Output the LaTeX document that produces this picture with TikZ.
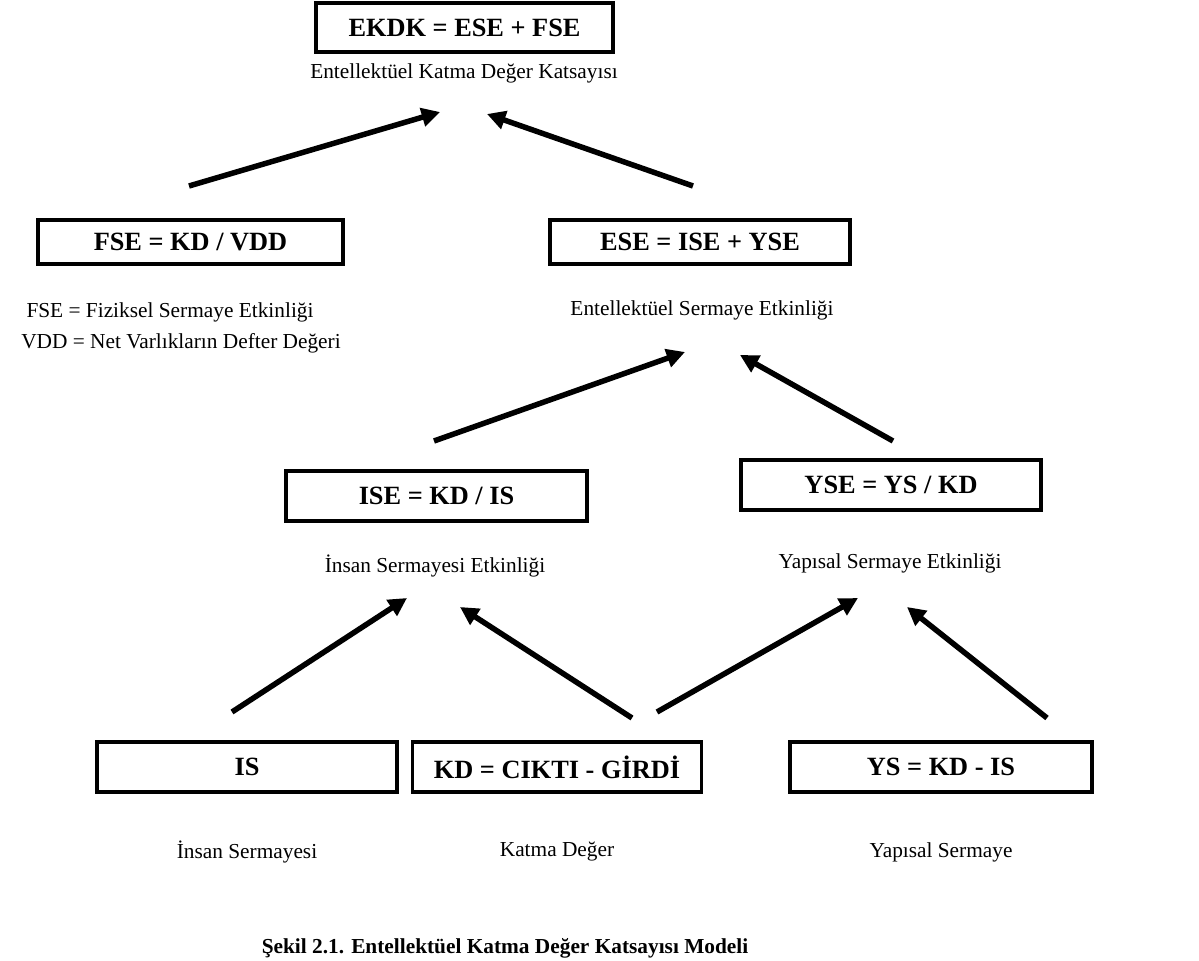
\documentclass[tikz,border=0pt]{standalone}
\usepackage{fontspec}
\setmainfont{Liberation Serif}
\usetikzlibrary{arrows.meta}
\begin{document}
\begin{tikzpicture}[x=0.6pt,y=-0.6pt,
  eqbox/.style={draw,line width=1.9pt,inner sep=0pt,font=\fontsize{15.8}{18}\selectfont\bfseries,anchor=center},
  lbl/.style={font=\fontsize{12.8}{15}\selectfont,inner sep=0pt,anchor=center},
  arr/.style={line width=3.3pt,-{Triangle[length=11pt,width=11pt]}}]
\useasboundingbox (0,0) rectangle (1199,961);
\clip (0,0) rectangle (1199,961);
% boxes
\node[eqbox,minimum width=178.2pt,minimum height=29.4pt] (ekdk) at (464.5,27.5) {EKDK = ESE + FSE};
\node[eqbox,minimum width=183pt,minimum height=26.4pt] (fse) at (190.5,242) {FSE = KD / VDD};
\node[eqbox,minimum width=180pt,minimum height=26.4pt] (ese) at (700,242) {ESE = ISE + YSE};
\node[eqbox,minimum width=180.6pt,minimum height=30pt] (ise) at (436.5,496) {ISE = KD / IS};
\node[eqbox,minimum width=180pt,minimum height=30pt] (yse) at (891,485) {YSE = YS / KD};
\node[eqbox,minimum width=180pt,minimum height=30pt] (is) at (247,767) {IS};
\node[eqbox,minimum width=173.4pt,minimum height=30pt] (kd) at (557,767) {KD = CIKTI - GİRDİ};
\node[eqbox,minimum width=181.2pt,minimum height=30pt] (ys) at (941,767) {YS = KD - IS};
% labels
\node[lbl] (l1) at (464,73) {Entellektüel Katma Değer Katsayısı};
\node[lbl] (l2) at (170,312) {FSE = Fiziksel Sermaye Etkinliği};
\node[lbl] (l3) at (181,343) {VDD = Net Varlıkların Defter Değeri};
\node[lbl] (l4) at (702,310) {Entellektüel Sermaye Etkinliği};
\node[lbl] (l5) at (435,566) {İnsan Sermayesi Etkinliği};
\node[lbl] (l6) at (890,563) {Yapısal Sermaye Etkinliği};
\node[lbl] (l7) at (247,852) {İnsan Sermayesi};
\node[lbl] (l8) at (557,852) {Katma Değer};
\node[lbl] (l9) at (941,852) {Yapısal Sermaye};
\node[lbl,anchor=base,font=\fontsize{12.8}{15}\selectfont\bfseries] (cap) at (505,953) {Şekil 2.1. Entellektüel Katma Değer Katsayısı Modeli};
% arrow end points
\coordinate (a1s) at (189,186); \coordinate (a1e) at (440,112);
\coordinate (a2s) at (693,186); \coordinate (a2e) at (487,114);
\coordinate (a3s) at (434,441); \coordinate (a3e) at (685,352);
\coordinate (a4s) at (893,441); \coordinate (a4e) at (740,355);
\coordinate (a5s) at (232,712); \coordinate (a5e) at (407,598);
\coordinate (a6s) at (632,718); \coordinate (a6e) at (460,607);
\coordinate (a7s) at (657,712); \coordinate (a7e) at (858,598);
\coordinate (a8s) at (1047,718); \coordinate (a8e) at (907,607);
\draw[arr] (a1s) -- (a1e);
\draw[arr] (a2s) -- (a2e);
\draw[arr] (a3s) -- (a3e);
\draw[arr] (a4s) -- (a4e);
\draw[arr] (a5s) -- (a5e);
\draw[arr] (a6s) -- (a6e);
\draw[arr] (a7s) -- (a7e);
\draw[arr] (a8s) -- (a8e);
\end{tikzpicture}
\end{document}
